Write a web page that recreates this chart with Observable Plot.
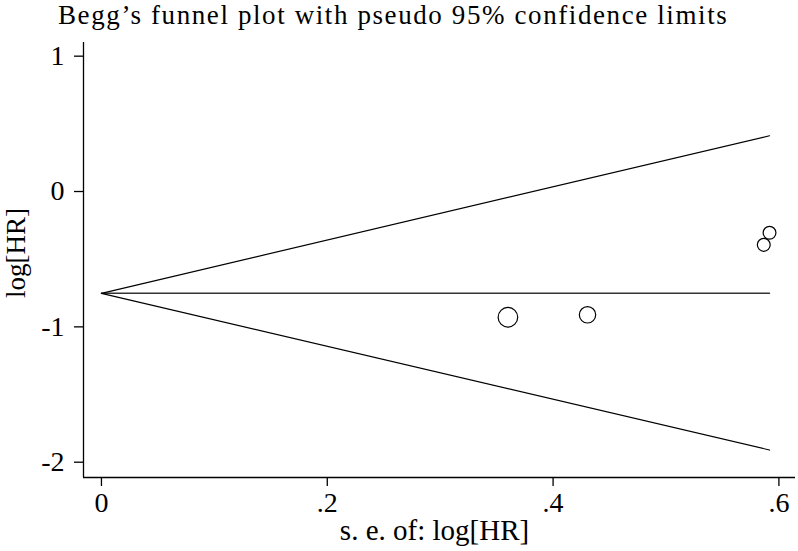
<!DOCTYPE html>
<html>
<head>
<meta charset="utf-8">
<script src="https://cdn.jsdelivr.net/npm/d3@7"></script>
<script src="https://cdn.jsdelivr.net/npm/@observablehq/plot@0.6"></script>
<style>
  html, body { margin: 0; padding: 0; background: #fff; }
  #title { height: 40px; line-height: 30px; font-family: "Liberation Serif", serif; font-size: 27px; letter-spacing: 1.6px; padding-left: 58px; color: #000; white-space: nowrap; box-sizing: border-box; }
  #chart svg { display: block; }
</style>
</head>
<body>
<div id="title">Begg’s funnel plot with pseudo 95% confidence limits</div>
<div id="chart"></div>
<script>
// Study-level data
const studySE = [0.360, 0.4305, 0.5866, 0.5917];
const studyLogHR = [-0.929, -0.911, -0.394, -0.305];
const studyWeight = [7.72, 5.40, 2.91, 2.86];

// Pooled estimate and pseudo 95% limits (line endpoints)
const pooledLogHR = -0.752;
const funnelSE = [0, 0.5917];
const upperLimit = [-0.752, 0.412];
const lowerLimit = [-0.752, -1.910];

// Axis ticks
const xTicks = [0, 0.2, 0.4, 0.6];
const xTickLabels = ["0", ".2", ".4", ".6"];
const yTicks = [1, 0, -1, -2];
const yTickLabels = ["1", "0", "-1", "-2"];

const xDomain = [-0.0159, 0.6147];
const yDomain = [-2.113, 1.101];

const studies = studySE.map((s, i) => ({se: s, logHR: studyLogHR[i], w: studyWeight[i]}));
const upper = funnelSE.map((s, i) => ({se: s, v: upperLimit[i]}));
const lower = funnelSE.map((s, i) => ({se: s, v: lowerLimit[i]}));
const pooled = funnelSE.map(s => ({se: s, v: pooledLogHR}));

const font = "Liberation Serif, serif";

const chart = Plot.plot({
  width: 798,
  height: 511,
  marginLeft: 83,
  marginRight: 3,
  marginTop: 2,
  marginBottom: 74,
  style: {fontFamily: font, fontSize: "28px", color: "#000", background: "#fff", overflow: "visible"},
  x: {domain: xDomain},
  y: {domain: yDomain},
  r: {type: "linear", domain: [2.86, 7.72], range: [6.4, 9.8]},
  marks: [
    Plot.axisX({ticks: xTicks, tickFormat: (d, i) => xTickLabels[i], tickSize: 9, tickPadding: 6, strokeWidth: 1.3, label: null, fontSize: 28}),
    Plot.axisY({ticks: yTicks, tickFormat: (d, i) => yTickLabels[i], tickSize: 9, tickPadding: 10, strokeWidth: 1.3, label: null, fontSize: 28}),
    Plot.ruleX([xDomain[0]], {stroke: "#000", strokeWidth: 1.3}),
    Plot.ruleY([yDomain[0]], {stroke: "#000", strokeWidth: 1.3}),
    Plot.line(pooled, {x: "se", y: "v", stroke: "#333", strokeWidth: 1.4}),
    Plot.line(upper, {x: "se", y: "v", stroke: "#000", strokeWidth: 1.2}),
    Plot.line(lower, {x: "se", y: "v", stroke: "#000", strokeWidth: 1.2}),
    Plot.dot(studies, {x: "se", y: "logHR", r: "w", stroke: "#000", strokeWidth: 1.2, fill: "none"}),
    Plot.text(["s. e. of: log[HR]"], {frameAnchor: "bottom", dy: 62, dx: -5, fontSize: 29, fill: "#000"}),
    Plot.text(["log[HR]"], {frameAnchor: "left", rotate: -90, dx: -67, dy: 38, fontSize: 27, letterSpacing: "0.6px", fill: "#000"})
  ]
});
document.getElementById("chart").appendChild(chart);
</script>
</body>
</html>
